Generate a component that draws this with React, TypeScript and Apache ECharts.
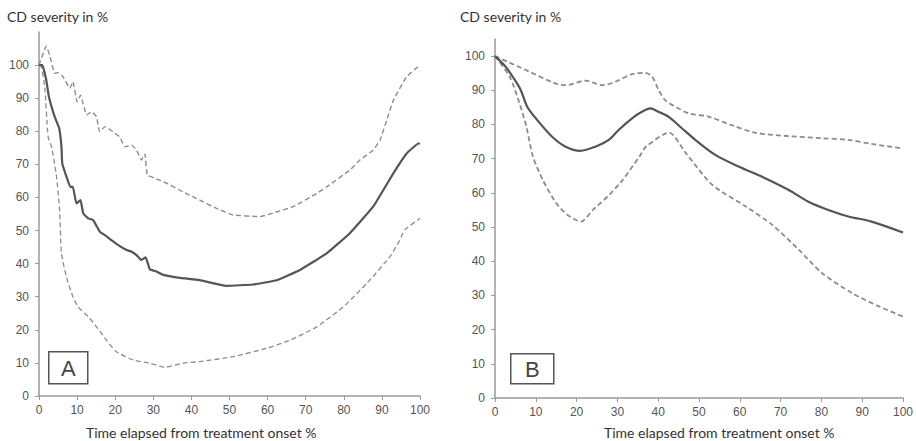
import React, { useEffect, useRef } from "react";
import * as echarts from "echarts";

// Panel A: [time %, severity %]
const aMean: number[][] = [[0,100],[0.9,100],[1.9,95.5],[2.6,90.4],[4.1,84.4],[5.3,80.9],[5.9,75.3],[6.1,70.3],[7.2,66.3],[8.2,63.2],[8.9,63.2],[9.8,58.2],[10.9,59.2],[11.6,55.2],[12.9,53.7],[14.2,53.2],[16,49.6],[17.3,48.6],[19,47.1],[20.8,45.6],[23,44.1],[24.3,43.6],[25.6,42.6],[26.9,41.1],[28,41.9],[29.1,38.3],[30.8,37.6],[32.6,36.6],[35.2,36],[37,35.7],[42.2,35],[49.2,33.3],[56.2,33.7],[62.4,35],[68.5,38.1],[75.5,43.1],[81.6,49.2],[87.7,57.2],[93,67.3],[96.5,73.3],[99.6,76.3],[100,76.3]];
const aUpper: number[][] = [[0,100],[1.9,105.7],[2.8,103],[4.1,97.5],[5,97.7],[6.3,96.5],[8.1,93],[8.9,95],[10,88.9],[10.9,90.9],[12.5,84.9],[13.8,85.9],[15.1,84.4],[15.9,79.9],[17.3,81.4],[19.4,79.9],[21.2,78.3],[22.5,75.3],[24.3,75.8],[25.6,74.3],[26.9,71.3],[27.8,73.1],[28.4,66.8],[30.4,65.8],[33.5,64.3],[37.8,61.7],[42.2,59.2],[46.6,56.7],[51,54.7],[58,54.2],[62,55.5],[66.7,57.2],[72.9,61.2],[75.5,63.2],[81.6,68.3],[84.2,71.3],[87.7,74.3],[89.5,77.3],[91.3,83.4],[93,89.4],[96.5,96.5],[100,100]];
const aLower: number[][] = [[0,100],[0.6,99.5],[1.5,93.4],[2.4,78.3],[3.3,75.3],[4.6,66.3],[5.4,56.2],[5.9,43.1],[7.2,36],[8.9,30],[10.2,27],[12.9,24],[15.1,20.9],[17.7,16.9],[20.3,13.4],[24.7,10.9],[29.1,9.9],[33,8.7],[37.8,9.9],[42.2,10.4],[51,11.9],[59.7,14.4],[65.9,16.9],[72.9,20.9],[79.9,27],[86,34],[92.1,42.1],[94.7,47.1],[96,50.2],[100,53.7]];

// Panel B
const bMean: number[][] = [[0,100],[2.6,96.9],[4.6,93.5],[6.3,90.1],[7.9,85.2],[10,81.8],[14,76.4],[17.3,73.5],[20.9,72.3],[24.6,73.5],[27.9,75.5],[30.3,78.4],[33.6,81.8],[36,83.7],[38.1,84.7],[40.1,83.7],[42.5,82.3],[45.8,78.9],[49.1,75.5],[54,71.1],[59.7,67.7],[66.2,64.3],[71.9,60.9],[76.8,57.4],[81.7,55],[86.6,53.1],[92.3,51.6],[100,48.4]];
const bUpper: number[][] = [[0,100],[6.7,96.4],[14.8,92],[17.3,91.5],[22.2,92.8],[26.3,91.5],[29.5,92.5],[33.6,94.7],[36.8,95.1],[38.5,94],[40.1,90.1],[41.7,87.1],[44.2,85.2],[47.4,83.3],[52.3,82.3],[58,79.8],[63.7,77.6],[71.9,76.6],[80,76],[86.6,75.5],[92.3,74.3],[100,73]];
const bLower: number[][] = [[0,100],[3.6,94],[6,86.2],[7.7,79.3],[9.3,70.6],[11.7,63.8],[15,57],[17.8,53.5],[21.1,51.6],[24,55],[28,59.4],[31.3,63.8],[35.4,70.6],[37,73.5],[42.7,77.6],[46.8,71.6],[53.3,62.3],[61.5,56],[68,50.6],[74.5,43.3],[80.2,36.5],[87.5,30.7],[94.1,26.8],[100,23.8]];

const yTitle = "CD severity in %";
const xTitle = "Time elapsed from treatment onset %";
const panelLabels = ["A", "B"];

const AXIS = "#9a9a9a";
const LABEL = "#555555";
const SOLID = "#555555";
const DASH = "#8c8c8c";

export default function App() {
  const ref = useRef<HTMLDivElement>(null);
  useEffect(() => {
    if (!ref.current) return;
    const chart = echarts.init(ref.current, undefined, { renderer: "svg" });
    const xAx = (gridIndex: number) => ({
      type: "value",
      gridIndex,
      min: 0,
      max: 100,
      interval: 10,
      splitLine: { show: false },
      axisLine: { show: true, lineStyle: { color: AXIS, width: 1.5 } },
      axisTick: { show: true, length: 4, lineStyle: { color: AXIS } },
      axisLabel: { color: LABEL, fontFamily: "Liberation Sans", fontSize: 12, margin: 8 },
    });
    const yAx = (gridIndex: number, max: number) => ({
      type: "value",
      gridIndex,
      min: 0,
      max,
      interval: 10,
      splitLine: { show: false },
      axisLine: { show: true, lineStyle: { color: AXIS, width: 1.5 } },
      axisTick: { show: true, length: 4, lineStyle: { color: AXIS } },
      axisLabel: { color: LABEL, fontFamily: "Liberation Sans", fontSize: 12, margin: 10, showMaxLabel: false },
    });
    const line = (data: number[][], idx: number, solid: boolean, width = 1.5, smooth = 0.25) => ({
      type: "line",
      xAxisIndex: idx,
      yAxisIndex: idx,
      data,
      showSymbol: false,
      symbol: "none",
      smooth,
      lineStyle: solid
        ? { color: SOLID, width: 2.2, type: "solid" }
        : { color: DASH, width, type: [5, 3] },
      z: solid ? 3 : 2,
    });
    const textStyle = { fill: "#333", font: "14px Lato" };
    chart.setOption({
      animation: false,
      grid: [
        { left: 39, top: 32, width: 381, height: 364 },
        { left: 495, top: 39, width: 409, height: 359 },
      ],
      xAxis: [xAx(0), xAx(1)],
      yAxis: [yAx(0, 110), yAx(1, 105)],
      series: [
        line(aUpper, 0, false, 1.4, 0.1),
        line(aLower, 0, false, 1.3, 0.2),
        line(aMean, 0, true, 2, 0.1),
        line(bUpper, 1, false, 1.8, 0.3),
        line(bLower, 1, false, 1.8, 0.25),
        line(bMean, 1, true, 2, 0.3),
      ],
      graphic: [
        { type: "text", left: 7, top: 9, style: { text: yTitle, ...textStyle } },
        { type: "text", left: 460, top: 9, style: { text: yTitle, ...textStyle } },
        { type: "text", left: 86, top: 425, style: { text: xTitle, ...textStyle } },
        { type: "text", left: 604, top: 425, style: { text: xTitle, ...textStyle } },
        {
          type: "group", left: 48, top: 351,
          children: [
            { type: "rect", shape: { x: 0, y: 0, width: 39, height: 32 }, style: { fill: "#fff", stroke: "#555", lineWidth: 1.5 } },
            { type: "text", x: 19.5, y: 17, style: { text: panelLabels[0], fill: "#444", font: "22px Liberation Sans", align: "center", verticalAlign: "middle" } },
          ],
        },
        {
          type: "group", left: 510, top: 353,
          children: [
            { type: "rect", shape: { x: 0, y: 0, width: 43, height: 30 }, style: { fill: "#fff", stroke: "#555", lineWidth: 1.5 } },
            { type: "text", x: 21.5, y: 16, style: { text: panelLabels[1], fill: "#444", font: "22px Liberation Sans", align: "center", verticalAlign: "middle" } },
          ],
        },
      ],
    });
    return () => chart.dispose();
  }, []);
  return (
    <div
      ref={ref}
      style={{ position: "fixed", left: 0, top: 0, width: 916, height: 441, background: "#fff" }}
    />
  );
}
